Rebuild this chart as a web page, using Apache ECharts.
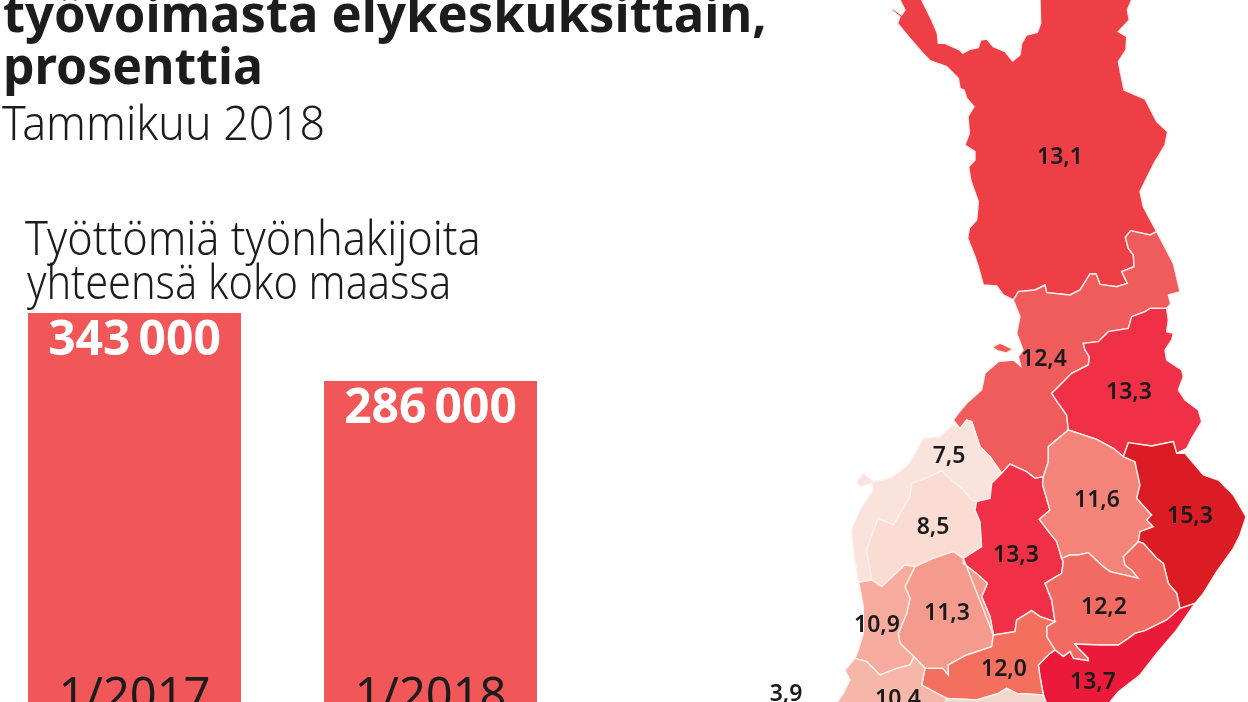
<!DOCTYPE html>
<html lang="fi">

<head>
    <meta charset="UTF-8">
    <title>Työttömien työnhakijoiden osuus työvoimasta</title>
    <script src="https://cdn.jsdelivr.net/npm/echarts@6/dist/echarts.min.js"></script>
    <style>
        html, body { margin: 0; padding: 0; background: #fff; }
        #chart { width: 1248px; height: 702px; }
    </style>
</head>

<body>
    <div id="chart"></div>
    <script>
        // bars
        var barCategories = ['1/2017', '1/2018'];
        var barValues = [343000, 286000];

        // map regions
        var regionNames = ['Lappi', 'Pohjois-Pohjanmaa', 'Kainuu', 'Pohjanmaa', 'Etelä-Pohjanmaa', 'Keski-Suomi', 'Pohjois-Savo', 'Pohjois-Karjala', 'Etelä-Savo', 'Kaakkois-Suomi', 'Pirkanmaa', 'Satakunta', 'Häme', 'Varsinais-Suomi', 'Uusimaa', 'Ahvenanmaa'];
        var regionValues = [13.1, 12.4, 13.3, 7.5, 8.5, 13.3, 11.6, 15.3, 12.2, 13.7, 11.3, 10.9, 12.0, 10.4, 8.0, 3.9];
        var regionColors = ['#ee3f47', '#f05c5c', '#f03046', '#f9e3dc', '#fbdcd3', '#f03046', '#f4837a', '#dc1c24', '#f26b63', '#ec1a3a', '#f49b8d', '#f7ab9e', '#f3705f', '#f6b7aa', '#f0d8cd', '#f9eedd'];

        // outlines are traced in the coordinates of the zoomed crop, see toLonLat
        function c1(pts) {
            return pts.map(function(p) { return [p[0] + 300, p[1] - 1050]; });
        }
        function rev(pts) {
            return pts.slice().reverse();
        }
        function toLonLat(p) {
            return [750 + p[0] / 3, 702 - (350 + p[1] / 3)];
        }

        var lappiOuter = c1([[490,900],[460,885],[440,858],[400,855],[385,800],[375,770],[353,715],[358,685],[380,660],[385,605],[362,540],[356,500],[375,480],[375,455],[345,435],[358,400],[354,350],[372,320],[350,295],[342,270],[330,265],[325,235],[290,200],[240,182],[210,150],[180,115],[143,70],[150,50],[125,30],[128,25],[155,45],[165,30],[150,0],[145,-30],[205,-30],[215,0],[245,60],[262,100],[265,130],[285,130],[330,150],[338,160],[360,148],[385,143],[392,120],[410,117],[430,140],[465,155],[488,183],[510,165],[515,130],[530,105],[562,97],[572,70],[570,0],[570,-40],[850,-40],[845,0],[832,30],[838,60],[805,95],[830,110],[828,150],[805,185],[822,270],[885,297],[920,365],[953,395],[945,435],[912,490],[870,575],[880,620],[920,695]]);
        var lappiSouth = c1([[920,695],[900,705],[842,692],[826,712],[835,745],[850,765],[852,800],[815,815],[832,850],[800,860],[750,853],[738,822],[720,822],[690,870],[660,885],[590,878],[585,855],[555,870],[505,875],[490,900]]);
        var ouluEast = c1([[970,790],[990,875],[955,885],[962,912]]);
        var kainuuOulu = c1([[950,925],[900,925],[885,935],[845,950],[835,985],[775,995],[745,1025],[700,1030]]).concat([[1005,0],[1018,20],[1015,45],[965,70],[925,110],[905,130],[925,160],[950,195],[955,240]]);
        var ouluSavo = [[955,240],[895,290],[895,335],[880,380]];
        var ouluKeski = [[880,380],[855,385],[830,365],[780,342],[755,370]];
        var ouluPale = [[755,370],[720,320],[690,290],[665,215],[650,210],[630,235]];
        var ouluCoast = [[630,235],[610,210],[625,190],[650,160],[695,120],[705,70],[745,35],[790,30],[812,48],[805,20],[819,0]].concat(c1([[500,1000],[510,950],[490,900]]));
        var hailuoto = [[726,-9],[750,-21],[789,-3],[768,9],[744,3]];
        var kainuuEast = c1([[955,960],[950,995],[970,1000],[965,1020]]).concat([[1245,0],[1250,30],[1295,60],[1300,80],[1285,120],[1305,150],[1345,180],[1355,215],[1325,265],[1310,295]]);
        var kainuuKarjala = [[1280,310],[1270,275],[1205,288],[1135,278],[1120,320]];
        var kainuuSavo = [[1120,320],[1090,295],[1040,268],[955,240]];
        var savoKarjala = [[1120,320],[1155,335],[1160,360],[1170,405],[1160,445],[1205,495],[1190,510],[1210,530],[1170,545],[1165,575]];
        var savoEtela = [[1165,575],[1135,605],[1120,620],[1125,645],[1145,660],[1165,685],[1145,680],[1080,665],[1060,650],[1015,608],[985,615],[960,615],[935,625]];
        var savoKeski = [[935,625],[920,575],[900,550],[868,508],[900,480],[878,405],[880,380]];
        var karjalaCoast = [[1305,310],[1360,375],[1405,390],[1450,435],[1488,500],[1470,555],[1450,595],[1400,665],[1360,730],[1335,760]];
        var etelaKarjala = [[1165,575],[1180,580],[1220,625],[1240,640],[1255,700],[1280,730],[1290,775]];
        var etelaKaakko = [[1290,775],[1250,810],[1185,842],[1155,850],[1135,865],[1105,885],[1050,885],[975,882],[985,895],[1015,925],[1015,932],[970,925],[960,905],[940,920],[915,900]];
        var etelaHame = [[915,900],[890,860],[890,830],[915,815]];
        var etelaKeski = [[915,815],[905,750],[885,700],[935,670],[940,635],[935,625]];
        var keskiHame = [[915,815],[870,800],[845,782],[800,810],[795,845],[730,855]];
        var keskiPirkan = [[730,855],[720,800],[695,740],[712,700],[685,675],[640,640],[640,625]];
        var keskiEtelaPoh = [[640,625],[695,590],[690,515],[675,480],[680,455]];
        var keskiPale = [[680,455],[720,445],[725,400],[755,370]];
        var paleEtela = [[680,455],[665,450],[640,420],[610,395],[575,362],[540,380],[485,400],[480,440],[430,525],[385,505],[375,530],[350,600],[365,690]];
        var paleSata = [[365,690],[325,697]];
        var paleCoast = [[310,600],[305,540],[330,480],[370,420],[365,400],[330,410],[320,395],[340,370],[370,395],[420,385],[470,350],[490,320],[520,265],[570,260],[610,225]];
        var etelaPohSata = [[365,690],[395,710],[465,645],[495,650]];
        var etelaPohPirkan = [[495,650],[550,625],[610,605],[640,625]];
        var pirkanSata = [[495,650],[465,710],[480,745],[470,790],[445,850],[450,880],[492,920]];
        var pirkanHame = [[492,920],[525,955],[578,955],[595,975],[595,945],[650,915],[725,890],[730,855]];
        var sataVars = [[315,925],[350,935],[390,975],[440,955],[480,945],[492,920]];
        var sataCoast = [[325,900],[340,850],[340,770],[328,705]];
        var hameKaakko = [[915,900],[900,910],[865,945],[870,980],[880,1035]];
        var hameUusi = [[880,1035],[800,1030],[770,1015],[745,1030],[680,1050],[590,1045]];
        var hameVars = [[590,1045],[515,1005],[525,955],[492,920]];
        var varsCoast = [[570,1100],[250,1110],[260,1060],[280,1030],[300,990],[285,960]];
        var kaakkoCoast = [[900,1090],[1040,1090],[1080,1056],[1105,1025],[1170,975],[1220,910],[1280,840],[1335,760]];
        var uusiSouth = [[900,1090],[570,1100]];
        var aland = [[90,1070],[150,1062],[170,1095],[110,1105]];

        var regionRings = [
            [lappiOuter.concat(lappiSouth)],
            [rev(lappiSouth).concat(ouluEast, kainuuOulu, ouluSavo, ouluKeski, ouluPale, ouluCoast), hailuoto],
            [rev(kainuuOulu).concat(kainuuEast, kainuuKarjala, kainuuSavo)],
            [rev(ouluPale).concat(rev(keskiPale), paleEtela, paleSata, paleCoast)],
            [paleEtela.concat(etelaPohSata, etelaPohPirkan, keskiEtelaPoh)],
            [rev(ouluKeski).concat(rev(savoKeski), rev(etelaKeski), keskiHame, keskiPirkan, keskiEtelaPoh, keskiPale)],
            [rev(kainuuSavo).concat(savoKarjala, savoEtela, savoKeski, rev(ouluSavo))],
            [rev(kainuuKarjala).concat(karjalaCoast, rev(etelaKarjala), rev(savoKarjala))],
            [etelaKarjala.concat(etelaKaakko, etelaHame, etelaKeski, rev(savoEtela))],
            [etelaKaakko.concat(hameKaakko, kaakkoCoast)],
            [rev(etelaPohPirkan).concat(pirkanSata, pirkanHame, rev(keskiPirkan))],
            [rev(paleSata).concat(etelaPohSata, pirkanSata, rev(sataVars), sataCoast)],
            [rev(keskiHame).concat(rev(etelaHame), hameKaakko, hameUusi, hameVars, pirkanHame)],
            [sataVars.concat(rev(hameVars), varsCoast)],
            [rev(hameUusi).concat(uusiSouth)],
            [aland]
        ];

        // label anchors in picture pixels
        var labelAnchors = [[1060,157],[1044,359],[1129,392],[949,456],[933,527],[1016,555],[1097,500],[1190,516],[1104,607],[1093,682],[947,613],[877,625],[1004,669],[898,699],[950,724],[786,694]];

        var finland = {
            type: 'FeatureCollection',
            features: regionNames.map(function(name, i) {
                return {
                    type: 'Feature',
                    properties: { name: name, cp: [labelAnchors[i][0], 702 - labelAnchors[i][1]] },
                    geometry: {
                        type: 'MultiPolygon',
                        coordinates: regionRings[i].map(function(ring) {
                            var r = ring.map(toLonLat);
                            r.push(r[0]);
                            return [r];
                        })
                    }
                };
            })
        };
        echarts.registerMap('finland', finland);

        function headText(text, x, y, size, weight, scaleX) {
            return {
                type: 'text',
                x: x,
                y: y,
                scaleX: scaleX,
                silent: true,
                style: {
                    text: text,
                    fill: '#1c1c1c',
                    font: weight + ' ' + size + 'px "Noto Sans", sans-serif'
                }
            };
        }

        var chart = echarts.init(document.getElementById('chart'));
        chart.setOption({
            animation: false,
            graphic: [
                headText('työvoimasta elykeskuksittain,', 3, -8, 51, 'bold', 0.995),
                headText('prosenttia', 3, 44, 51, 'bold', 0.98),
                headText('Tammikuu 2018', 2, 102, 48, 300, 0.93),
                headText('Työttömiä työnhakijoita', 25, 217, 48, 300, 0.9),
                headText('yhteensä koko maassa', 27, 261, 48, 300, 0.863)
            ],
            grid: { left: -13.5, width: 592, top: 313, height: 409, outerBoundsMode: 'none' },
            xAxis: {
                type: 'category',
                z: 5,
                data: barCategories,
                axisLine: { show: false },
                axisTick: { show: false },
                axisLabel: {
                    inside: true,
                    margin: 1,
                    color: '#1c1c1c',
                    fontFamily: 'Noto Sans',
                    fontSize: 47
                }
            },
            yAxis: { type: 'value', min: 0, max: 343000, show: false },
            series: [{
                type: 'bar',
                data: barValues,
                barWidth: 213,
                silent: true,
                itemStyle: { color: '#f15658' },
                label: {
                    show: true,
                    position: 'insideTop',
                    distance: 4,
                    color: '#fff',
                    fontFamily: 'Noto Sans',
                    fontWeight: 'bold',
                    fontSize: 48,
                    formatter: function(p) {
                        return String(p.value).replace(/000$/, '\u2009000');
                    }
                }
            }, {
                type: 'map',
                map: 'finland',
                left: 0,
                top: 0,
                width: 1248,
                height: 702,
                aspectScale: 1,
                boundingCoords: [[0, 702], [1248, 0]],
                roam: false,
                silent: true,
                itemStyle: { borderColor: '#fdf1ec', borderWidth: 1.4 },
                label: {
                    show: true,
                    color: '#1a1a1a',
                    fontFamily: 'Noto Sans',
                    fontWeight: 600,
                    fontSize: 23,
                    formatter: function(p) {
                        return p.value.toFixed(1).replace('.', ',');
                    }
                },
                data: regionNames.map(function(name, i) {
                    return { name: name, value: regionValues[i], itemStyle: { areaColor: regionColors[i] } };
                })
            }]
        });
    </script>
</body>

</html>
